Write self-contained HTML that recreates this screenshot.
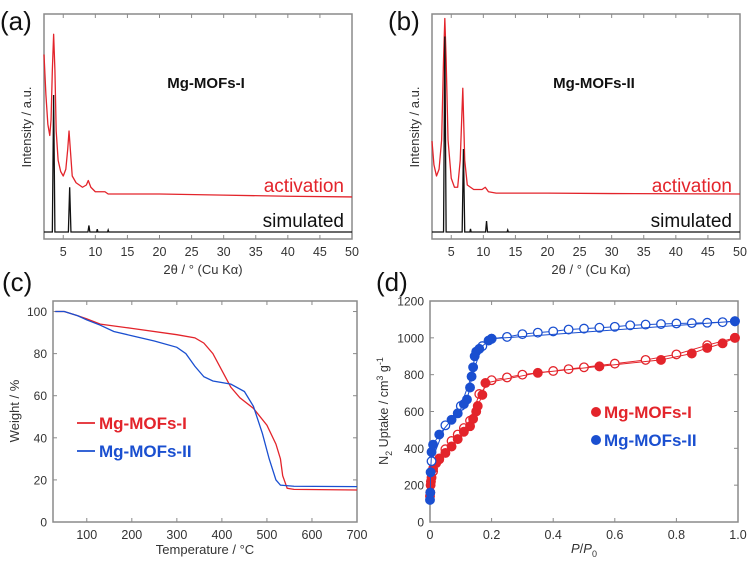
<!DOCTYPE html>
<html><head><meta charset="utf-8">
<style>
html,body{margin:0;padding:0;background:#fff;}
svg{display:block;font-family:"Liberation Sans",Arial,sans-serif;}
</style></head>
<body>
<svg id="fig" width="751" height="561" viewBox="0 0 751 561" xmlns="http://www.w3.org/2000/svg"></svg>
<script>
// ---------- data: panel (a) XRD Mg-MOFs-I ----------
const aRedX = [2.0,2.3,2.6,2.9,3.1,3.3,3.5,3.7,3.9,4.2,4.6,5.0,5.4,5.7,5.9,6.1,6.4,7,8,8.6,8.9,9.3,10,11.5,12,15,20,30,40,50];
const aRedY = [82,64,51,46,53,75,91,75,48,35,30,28,31,40,48,40,28,25,23,24,26,23,21,21,20,20,20,19.5,19,18.7];
const aBlkX = [2,3.3,3.5,3.7,5.8,6.0,6.2,8.85,9.0,9.15,10.2,10.3,10.4,11.9,12,12.1,50];
const aBlkY = [3.1,3.1,64,3.1,3.1,23,3.1,3.1,6,3.1,3.1,4.4,3.1,3.1,4,3.1,3.1];
// ---------- data: panel (b) XRD Mg-MOFs-II ----------
const bRedX = [2.0,2.3,2.7,3.1,3.5,3.8,4.0,4.2,4.5,5,5.5,6.0,6.4,6.8,7.1,7.5,8.5,9.8,10.3,10.8,12,20,30,50];
const bRedY = [43.5,33,28,31,44,80,98,80,44,27,23,23,35,67,35,24,22,22,23,21,20.4,20.4,20.2,20];
const bBlkX = [2,3.8,4.0,4.2,6.7,6.9,7.1,7.9,8.0,8.1,10.35,10.5,10.65,13.7,13.8,13.9,50];
const bBlkY = [3.1,3.1,90,3.1,3.1,40,3.1,3.1,4.5,3.1,3.1,8,3.1,3.1,4,3.1,3.1];
const xrdTicks = [5,10,15,20,25,30,35,40,45,50];
// ---------- data: panel (c) TGA ----------
const tgaRedT = [30,50,80,100,130,200,300,340,360,380,400,420,440,470,500,520,530,535,545,560,700];
const tgaRedW = [100,100,98,96.5,94,92,89,87.5,85,80,72,64,59,54,46,37,30,22,16,15.5,15.2];
const tgaBlueT = [30,50,80,100,130,160,200,250,300,320,340,360,380,420,450,470,490,505,520,530,560,700];
const tgaBlueW = [100,100,98,96,93.5,90.5,88.5,86,83,80,74,69,67,65.5,62,55,42,30,20,17.5,17,16.8];
const tgaXTicks = [100,200,300,400,500,600,700];
const tgaYTicks = [0,20,40,60,80,100];
// ---------- data: panel (d) N2 isotherms ----------
const redAdsP = [0,0.001,0.002,0.003,0.005,0.01,0.02,0.03,0.05,0.07,0.09,0.11,0.13,0.14,0.15,0.155,0.17,0.18,0.35,0.55,0.75,0.85,0.9,0.95,0.99];
const redAdsV = [140,160,200,220,240,290,320,345,375,410,450,490,520,560,600,630,690,755,810,845,880,915,945,970,1000];
const redDesP = [0.99,0.9,0.8,0.7,0.6,0.5,0.45,0.4,0.3,0.25,0.2,0.16,0.13,0.11,0.09,0.07,0.05,0.03,0.01];
const redDesV = [1000,960,910,880,860,840,830,820,800,785,770,695,550,510,475,440,395,340,275];
const blueAdsP = [0,0.001,0.002,0.005,0.01,0.03,0.07,0.09,0.11,0.12,0.13,0.135,0.14,0.145,0.15,0.16,0.19,0.2,0.99];
const blueAdsV = [120,160,270,380,420,475,555,590,640,665,730,790,840,900,925,940,985,995,1090];
const blueDesP = [0.99,0.95,0.9,0.85,0.8,0.75,0.7,0.65,0.6,0.55,0.5,0.45,0.4,0.35,0.3,0.25,0.2,0.17,0.1,0.05,0.005];
const blueDesV = [1090,1085,1082,1080,1078,1075,1072,1068,1060,1055,1050,1045,1035,1028,1020,1005,995,955,630,525,330];
const isoXTicks = [0,0.2,0.4,0.6,0.8,1.0];
const isoYTicks = [0,200,400,600,800,1000,1200];

const RED = '#e3242b', BLUE = '#1a4fd0', AX = '#8a8a8a', TXT = '#333';
const svg = document.getElementById('fig');
const NS = 'http://www.w3.org/2000/svg';
function mk(tag, attrs, parent){
  const e = document.createElementNS(NS, tag);
  for (const k in attrs) e.setAttribute(k, attrs[k]);
  (parent||svg).appendChild(e);
  return e;
}
function txt(s, attrs, parent){ const t = mk('text', attrs, parent); t.textContent = s; return t; }
function lin(d0,d1,r0,r1){ return v => r0 + (v-d0)/(d1-d0)*(r1-r0); }
function pathD(xs, ys, sx, sy){ return xs.map((x,i)=>(i?'L':'M')+sx(x).toFixed(2)+','+sy(ys[i]).toFixed(2)).join(''); }

function frame(g, x0,y0,x1,y1){
  const r = mk('rect',{x:x0,y:y0,width:x1-x0,height:y1-y0,fill:'none',stroke:AX,'stroke-width':1.5},g);
  
  
}
function xTicks(g, ticks, sx, y0, y1, fmt){
  ticks.forEach(t=>{
    const x = sx(t);
    mk('line',{x1:x,x2:x,y1:y1,y2:y1-4,stroke:AX,'stroke-width':1},g);
    mk('line',{x1:x,x2:x,y1:y0,y2:y0+4,stroke:AX,'stroke-width':1},g);
    const l = txt(fmt?fmt(t):String(t),{x:x,y:y1+17,'text-anchor':'middle','font-size':12.5,fill:TXT},g);
    
    
  });
}
function yTicks(g, ticks, sy, x0, x1){
  ticks.forEach(t=>{
    const y = sy(t);
    mk('line',{x1:x0,x2:x0+4,y1:y,y2:y,stroke:AX,'stroke-width':1},g);
    mk('line',{x1:x1,x2:x1-4,y1:y,y2:y,stroke:AX,'stroke-width':1},g);
    const l = txt(String(t),{x:x0-6,y:y+4.5,'text-anchor':'end','font-size':12,fill:TXT},g);
    
    
  });
}

// ---------- XRD panels ----------
function xrdPanel(label, name, x0, x1, rx, ry, bx, by){
  const g = mk('g',{});
  
  
  const y0 = 14, y1 = 239;
  const sx = lin(2,50,x0,x1), sy = lin(0,100,y1,y0);
  frame(g,x0,y0,x1,y1);
  xTicks(g, xrdTicks, sx, y0, y1);
  const pr = mk('path',{d:pathD(rx,ry,sx,sy),fill:'none',stroke:RED,'stroke-width':1.3,'stroke-linejoin':'round'},g);
  
  
  const pb = mk('path',{d:pathD(bx,by,sx,sy),fill:'none',stroke:'#111','stroke-width':1.3},g);
  
  
  const pl = txt('('+label+')',{x:x0-44,y:30,'font-size':26,fill:'#111'},g);
  
  
  const t = txt(name,{x:(x0+x1)/2+8,y:88,'text-anchor':'middle','font-size':15,'font-weight':'bold',fill:'#111'},g);
  
  
  const a = txt('activation',{x:x1-8,y:192,'text-anchor':'end','font-size':19,fill:RED},g);
  
  
  const s = txt('simulated',{x:x1-8,y:227,'text-anchor':'end','font-size':19,fill:'#111'},g);
  
  
  const xt = txt('2θ / ° (Cu Kα)',{x:(x0+x1)/2+5,y:274,'text-anchor':'middle','font-size':13,fill:TXT},g);
  
  
  const yt = txt('Intensity / a.u.',{x:0,y:0,'text-anchor':'middle','font-size':13,fill:TXT,transform:'translate('+(x0-13)+',127) rotate(-90)'},g);
  
  
}
xrdPanel('a','Mg-MOFs-I',44,352,aRedX,aRedY,aBlkX,aBlkY);
xrdPanel('b','Mg-MOFs-II',432,740,bRedX,bRedY,bBlkX,bBlkY);

// ---------- TGA panel (c) ----------
(function(){
  const g = mk('g',{});
  
  
  const x0=53,x1=357,y0=301,y1=522;
  const sx = lin(25,700,x0,x1), sy = lin(0,105,y1,y0);
  frame(g,x0,y0,x1,y1);
  xTicks(g,tgaXTicks,sx,y0,y1);
  yTicks(g,tgaYTicks,sy,x0,x1);
  const r = mk('path',{d:pathD(tgaRedT,tgaRedW,sx,sy),fill:'none',stroke:RED,'stroke-width':1.3},g);
  
  
  const b = mk('path',{d:pathD(tgaBlueT,tgaBlueW,sx,sy),fill:'none',stroke:BLUE,'stroke-width':1.3},g);
  
  
  const pl = txt('(c)',{x:2,y:291,'font-size':26,fill:'#111'},g);
  
  
  [[RED,'Mg-MOFs-I',423],[BLUE,'Mg-MOFs-II',451]].forEach(([c,n,y])=>{
    const le = mk('g',{},g);
    
    
    mk('line',{x1:77,x2:95,y1:y,y2:y,stroke:c,'stroke-width':1.8},le);
    txt(n,{x:99,y:y+6,'font-size':17,'font-weight':'bold',fill:c},le);
  });
  const xt = txt('Temperature / °C',{x:(x0+x1)/2,y:554,'text-anchor':'middle','font-size':13,fill:TXT},g);
  
  
  const yt = txt('Weight / %',{x:0,y:0,'text-anchor':'middle','font-size':13,fill:TXT,transform:'translate(19,411) rotate(-90)'},g);
  
  
})();

// ---------- Isotherm panel (d) ----------
(function(){
  const g = mk('g',{});
  
  
  const x0=430,x1=738,y0=301,y1=522;
  const sx = lin(0,1,x0,x1), sy = lin(0,1200,y1,y0);
  frame(g,x0,y0,x1,y1);
  xTicks(g,isoXTicks,sx,y0,y1,t=>t.toFixed(1).replace(/^0\.0$/,'0'));
  yTicks(g,isoYTicks,sy,x0,x1);
  function series(xs,ys,c,filled,nm){
    const s = mk('g',{},g);
    
    
    mk('path',{d:pathD(xs,ys,sx,sy),fill:'none',stroke:c,'stroke-width':1},s);
    xs.forEach((x,i)=>{
      const m = mk('circle',{cx:sx(x),cy:sy(ys[i]),r:4.3,fill:filled?c:'#fff',stroke:c,'stroke-width':1.3},s);
      
      
    });
  }
  series(redDesP,redDesV,RED,false,'mg-mofs-i-desorption');
  series(redAdsP,redAdsV,RED,true,'mg-mofs-i-adsorption');
  series(blueDesP,blueDesV,BLUE,false,'mg-mofs-ii-desorption');
  series(blueAdsP,blueAdsV,BLUE,true,'mg-mofs-ii-adsorption');
  const pl = txt('(d)',{x:376,y:291,'font-size':26,fill:'#111'},g);
  
  
  [[RED,'Mg-MOFs-I',412],[BLUE,'Mg-MOFs-II',440]].forEach(([c,n,y])=>{
    const le = mk('g',{},g);
    
    
    mk('circle',{cx:596,cy:y,r:5,fill:c},le);
    txt(n,{x:604,y:y+6,'font-size':17,'font-weight':'bold',fill:c},le);
  });
  const xt = mk('text',{x:(x0+x1)/2,y:553,'text-anchor':'middle','font-size':13,fill:TXT},g);
  xt.innerHTML = '<tspan font-style="italic">P</tspan>/<tspan font-style="italic">P</tspan><tspan font-size="9" dy="4">0</tspan>';
  
  
  const yt = mk('text',{x:0,y:0,'text-anchor':'middle','font-size':12.5,fill:TXT,transform:'translate(388,411) rotate(-90)'},g);
  yt.innerHTML = 'N<tspan font-size="9" dy="4">2</tspan><tspan dy="-4"> Uptake / cm</tspan><tspan font-size="9" dy="-5">3</tspan><tspan dy="5"> g</tspan><tspan font-size="9" dy="-5">-1</tspan>';
  
  
})();
</script>
</body></html>
